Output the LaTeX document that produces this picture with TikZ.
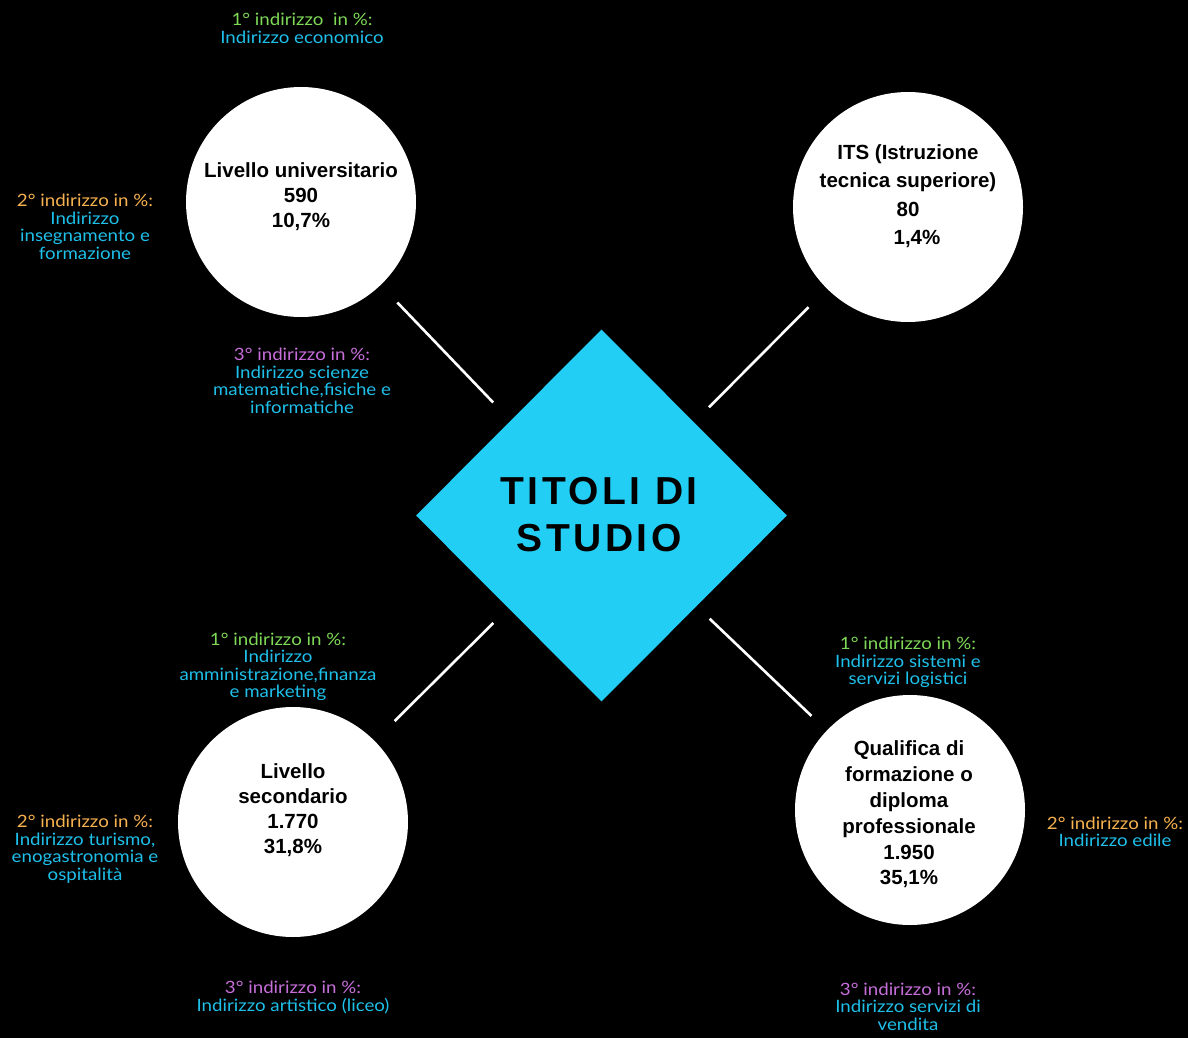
\documentclass[tikz,border=0pt]{standalone}
\usepackage{fontspec}
\setmainfont{Liberation Sans}
\newfontfamily\labfont[FakeStretch=1.1]{Lato}
\newfontfamily\titlefont[LetterSpace=9]{Liberation Sans}
\usetikzlibrary{shapes.geometric}
\definecolor{labgreen}{HTML}{7ED957}
\definecolor{laborange}{HTML}{F7B24F}
\definecolor{labpurple}{HTML}{C76EDB}
\definecolor{labcyan}{HTML}{1EC0EA}
\definecolor{diacyan}{HTML}{23CEF5}
\tikzset{
  bubble/.style={circle, fill=white, minimum size=230pt, inner sep=0pt},
  bubtext/.style={align=center, text=black, inner sep=0pt, font=\fontsize{20.5}{25}\selectfont\bfseries},
  lab/.style={align=center, inner sep=0pt, text=labcyan, font=\labfont\fontsize{17}{17.5}\selectfont},
  conn/.style={draw=white, line width=2.6pt},
}
\newcommand{\gr}[1]{\textcolor{labgreen}{#1}}
\newcommand{\og}[1]{\textcolor{laborange}{#1}}
\newcommand{\pu}[1]{\textcolor{labpurple}{#1}}
\begin{document}
\begin{tikzpicture}[x=1pt,y=-1pt]
\path[use as bounding box, fill=black] (0,0) rectangle (1188,1038);
% central diamond
\node[diamond, aspect=1, fill=diacyan, minimum width=371pt, minimum height=372pt, inner sep=0pt] (titoli) at (601.5,515.5) {};
\node[align=center, text=black, inner sep=0pt, font=\titlefont\bfseries\fontsize{39}{47}\selectfont] (ttitle) at (599,515) {TITOLI DI\\STUDIO};
% circles
\node[bubble] (univ) at (301,202) {};
\node[bubble] (its) at (908,207) {};
\node[bubble] (sec) at (293,822) {};
\node[bubble] (qual) at (910,810) {};
% circle texts
\node[bubtext] (tuniv) at (301,197) {Livello universitario\\590\\10,7\%};
\node[bubtext, font=\fontsize{20.5}{28.5}\selectfont\bfseries] (tits) at (908,196) {ITS (Istruzione\\tecnica superiore)\\80\\\hspace*{18pt}1,4\%};
\node[bubtext] (tsec) at (293,810) {Livello\\secondario\\1.770\\31,8\%};
\node[bubtext, font=\fontsize{20.5}{25.8}\selectfont\bfseries] (tqual) at (909,814.5) {Qualifica di\\formazione o\\diploma\\professionale\\1.950\\35,1\%};
% connectors
\draw[conn, shorten <=24pt, shorten >=25pt] (univ) -- (titoli);
\draw[conn, shorten <=26pt, shorten >=21pt] (its) -- (titoli);
\draw[conn, shorten <=28pt, shorten >=21pt] (sec) -- (titoli);
\draw[conn, shorten <=21pt, shorten >=18pt] (qual) -- (titoli);
% labels
\node[lab] (l1) at (302,28.5) {\gr{1° indirizzo\ \ in \%:}\\Indirizzo economico};
\node[lab] (l2) at (85,227) {\og{2° indirizzo in \%:}\\Indirizzo\\insegnamento e\\formazione};
\node[lab] (l3) at (302,381) {\pu{3° indirizzo in \%:}\\Indirizzo scienze\\matematiche,fisiche e\\informatiche};
\node[lab] (l4) at (278,667) {\gr{1° indirizzo in \%:}\\Indirizzo\\amministrazione,finanza\\e marketing};
\node[lab] (l5) at (85,849) {\og{2° indirizzo in \%:}\\Indirizzo turismo,\\enogastronomia e\\ospitalità};
\node[lab] (l6) at (293,997.5) {\pu{3° indirizzo in \%:}\\Indirizzo artistico (liceo)};
\node[lab] (l7) at (908,662.5) {\gr{1° indirizzo in \%:}\\Indirizzo sistemi e\\servizi logistici};
\node[lab] (l8) at (1115,832) {\og{2° indirizzo in \%:}\\Indirizzo edile};
\node[lab] (l9) at (908,1006.5) {\pu{3° indirizzo in \%:}\\Indirizzo servizi di\\vendita};
\end{tikzpicture}
\end{document}
